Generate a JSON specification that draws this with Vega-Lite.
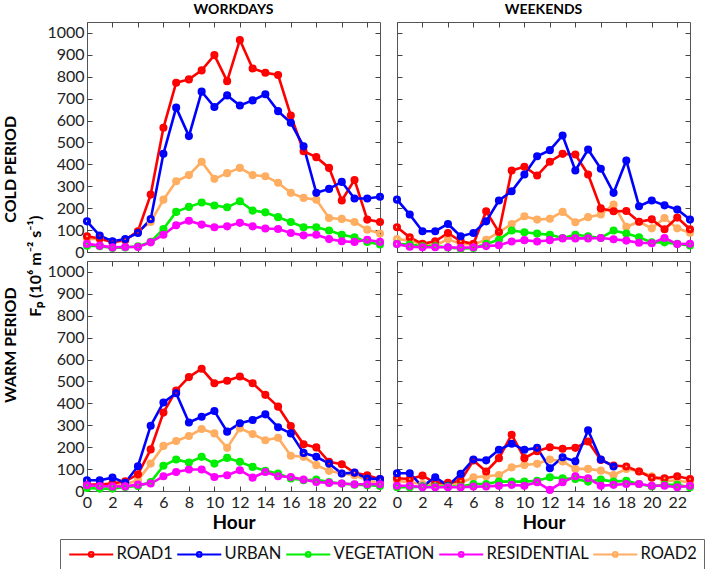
{
  "$schema": "https://vega.github.io/schema/vega-lite/v6.json",
  "padding": {"left": 3, "top": 2, "right": 0, "bottom": 0},
  "datasets": {
    "cw": [
      {"site":"ROAD2","hour":0,"value":59},{"site":"ROAD2","hour":1,"value":61},{"site":"ROAD2","hour":2,"value":46},{"site":"ROAD2","hour":3,"value":52},{"site":"ROAD2","hour":4,"value":95},{"site":"ROAD2","hour":5,"value":137},{"site":"ROAD2","hour":6,"value":239},{"site":"ROAD2","hour":7,"value":323},{"site":"ROAD2","hour":8,"value":351},{"site":"ROAD2","hour":9,"value":412},{"site":"ROAD2","hour":10,"value":334},{"site":"ROAD2","hour":11,"value":360},{"site":"ROAD2","hour":12,"value":384},{"site":"ROAD2","hour":13,"value":351},{"site":"ROAD2","hour":14,"value":346},{"site":"ROAD2","hour":15,"value":316},{"site":"ROAD2","hour":16,"value":270},{"site":"ROAD2","hour":17,"value":247},{"site":"ROAD2","hour":18,"value":239},{"site":"ROAD2","hour":19,"value":155},{"site":"ROAD2","hour":20,"value":151},{"site":"ROAD2","hour":21,"value":137},{"site":"ROAD2","hour":22,"value":102},{"site":"ROAD2","hour":23,"value":84},
      {"site":"ROAD1","hour":0,"value":72},{"site":"ROAD1","hour":1,"value":62},{"site":"ROAD1","hour":2,"value":45},{"site":"ROAD1","hour":3,"value":55},{"site":"ROAD1","hour":4,"value":95},{"site":"ROAD1","hour":5,"value":262},{"site":"ROAD1","hour":6,"value":567},{"site":"ROAD1","hour":7,"value":773},{"site":"ROAD1","hour":8,"value":788},{"site":"ROAD1","hour":9,"value":829},{"site":"ROAD1","hour":10,"value":899},{"site":"ROAD1","hour":11,"value":780},{"site":"ROAD1","hour":12,"value":968},{"site":"ROAD1","hour":13,"value":838},{"site":"ROAD1","hour":14,"value":818},{"site":"ROAD1","hour":15,"value":808},{"site":"ROAD1","hour":16,"value":623},{"site":"ROAD1","hour":17,"value":460},{"site":"ROAD1","hour":18,"value":433},{"site":"ROAD1","hour":19,"value":384},{"site":"ROAD1","hour":20,"value":235},{"site":"ROAD1","hour":21,"value":329},{"site":"ROAD1","hour":22,"value":148},{"site":"ROAD1","hour":23,"value":137},
      {"site":"URBAN","hour":0,"value":140},{"site":"URBAN","hour":1,"value":75},{"site":"URBAN","hour":2,"value":49},{"site":"URBAN","hour":3,"value":59},{"site":"URBAN","hour":4,"value":87},{"site":"URBAN","hour":5,"value":150},{"site":"URBAN","hour":6,"value":448},{"site":"URBAN","hour":7,"value":659},{"site":"URBAN","hour":8,"value":529},{"site":"URBAN","hour":9,"value":732},{"site":"URBAN","hour":10,"value":662},{"site":"URBAN","hour":11,"value":715},{"site":"URBAN","hour":12,"value":669},{"site":"URBAN","hour":13,"value":692},{"site":"URBAN","hour":14,"value":720},{"site":"URBAN","hour":15,"value":643},{"site":"URBAN","hour":16,"value":590},{"site":"URBAN","hour":17,"value":483},{"site":"URBAN","hour":18,"value":270},{"site":"URBAN","hour":19,"value":288},{"site":"URBAN","hour":20,"value":320},{"site":"URBAN","hour":21,"value":244},{"site":"URBAN","hour":22,"value":244},{"site":"URBAN","hour":23,"value":252},
      {"site":"VEGETATION","hour":0,"value":29},{"site":"VEGETATION","hour":1,"value":26},{"site":"VEGETATION","hour":2,"value":18},{"site":"VEGETATION","hour":3,"value":21},{"site":"VEGETATION","hour":4,"value":26},{"site":"VEGETATION","hour":5,"value":46},{"site":"VEGETATION","hour":6,"value":105},{"site":"VEGETATION","hour":7,"value":183},{"site":"VEGETATION","hour":8,"value":206},{"site":"VEGETATION","hour":9,"value":226},{"site":"VEGETATION","hour":10,"value":212},{"site":"VEGETATION","hour":11,"value":204},{"site":"VEGETATION","hour":12,"value":232},{"site":"VEGETATION","hour":13,"value":189},{"site":"VEGETATION","hour":14,"value":181},{"site":"VEGETATION","hour":15,"value":159},{"site":"VEGETATION","hour":16,"value":137},{"site":"VEGETATION","hour":17,"value":113},{"site":"VEGETATION","hour":18,"value":113},{"site":"VEGETATION","hour":19,"value":98},{"site":"VEGETATION","hour":20,"value":79},{"site":"VEGETATION","hour":21,"value":67},{"site":"VEGETATION","hour":22,"value":46},{"site":"VEGETATION","hour":23,"value":34},
      {"site":"RESIDENTIAL","hour":0,"value":37},{"site":"RESIDENTIAL","hour":1,"value":29},{"site":"RESIDENTIAL","hour":2,"value":21},{"site":"RESIDENTIAL","hour":3,"value":23},{"site":"RESIDENTIAL","hour":4,"value":23},{"site":"RESIDENTIAL","hour":5,"value":44},{"site":"RESIDENTIAL","hour":6,"value":79},{"site":"RESIDENTIAL","hour":7,"value":122},{"site":"RESIDENTIAL","hour":8,"value":143},{"site":"RESIDENTIAL","hour":9,"value":125},{"site":"RESIDENTIAL","hour":10,"value":113},{"site":"RESIDENTIAL","hour":11,"value":117},{"site":"RESIDENTIAL","hour":12,"value":133},{"site":"RESIDENTIAL","hour":13,"value":117},{"site":"RESIDENTIAL","hour":14,"value":107},{"site":"RESIDENTIAL","hour":15,"value":105},{"site":"RESIDENTIAL","hour":16,"value":87},{"site":"RESIDENTIAL","hour":17,"value":76},{"site":"RESIDENTIAL","hour":18,"value":79},{"site":"RESIDENTIAL","hour":19,"value":59},{"site":"RESIDENTIAL","hour":20,"value":49},{"site":"RESIDENTIAL","hour":21,"value":46},{"site":"RESIDENTIAL","hour":22,"value":56},{"site":"RESIDENTIAL","hour":23,"value":46}
    ],
    "ce": [
      {"site":"ROAD2","hour":0,"value":59},{"site":"ROAD2","hour":1,"value":52},{"site":"ROAD2","hour":2,"value":34},{"site":"ROAD2","hour":3,"value":29},{"site":"ROAD2","hour":4,"value":59},{"site":"ROAD2","hour":5,"value":37},{"site":"ROAD2","hour":6,"value":34},{"site":"ROAD2","hour":7,"value":56},{"site":"ROAD2","hour":8,"value":90},{"site":"ROAD2","hour":9,"value":128},{"site":"ROAD2","hour":10,"value":163},{"site":"ROAD2","hour":11,"value":148},{"site":"ROAD2","hour":12,"value":152},{"site":"ROAD2","hour":13,"value":183},{"site":"ROAD2","hour":14,"value":136},{"site":"ROAD2","hour":15,"value":159},{"site":"ROAD2","hour":16,"value":171},{"site":"ROAD2","hour":17,"value":217},{"site":"ROAD2","hour":18,"value":115},{"site":"ROAD2","hour":19,"value":138},{"site":"ROAD2","hour":20,"value":108},{"site":"ROAD2","hour":21,"value":155},{"site":"ROAD2","hour":22,"value":108},{"site":"ROAD2","hour":23,"value":88},
      {"site":"ROAD1","hour":0,"value":113},{"site":"ROAD1","hour":1,"value":67},{"site":"ROAD1","hour":2,"value":37},{"site":"ROAD1","hour":3,"value":49},{"site":"ROAD1","hour":4,"value":87},{"site":"ROAD1","hour":5,"value":49},{"site":"ROAD1","hour":6,"value":37},{"site":"ROAD1","hour":7,"value":186},{"site":"ROAD1","hour":8,"value":91},{"site":"ROAD1","hour":9,"value":372},{"site":"ROAD1","hour":10,"value":389},{"site":"ROAD1","hour":11,"value":349},{"site":"ROAD1","hour":12,"value":412},{"site":"ROAD1","hour":13,"value":448},{"site":"ROAD1","hour":14,"value":445},{"site":"ROAD1","hour":15,"value":354},{"site":"ROAD1","hour":16,"value":199},{"site":"ROAD1","hour":17,"value":186},{"site":"ROAD1","hour":18,"value":187},{"site":"ROAD1","hour":19,"value":138},{"site":"ROAD1","hour":20,"value":149},{"site":"ROAD1","hour":21,"value":104},{"site":"ROAD1","hour":22,"value":157},{"site":"ROAD1","hour":23,"value":104},
      {"site":"URBAN","hour":0,"value":239},{"site":"URBAN","hour":1,"value":171},{"site":"URBAN","hour":2,"value":95},{"site":"URBAN","hour":3,"value":95},{"site":"URBAN","hour":4,"value":128},{"site":"URBAN","hour":5,"value":72},{"site":"URBAN","hour":6,"value":87},{"site":"URBAN","hour":7,"value":140},{"site":"URBAN","hour":8,"value":235},{"site":"URBAN","hour":9,"value":277},{"site":"URBAN","hour":10,"value":354},{"site":"URBAN","hour":11,"value":437},{"site":"URBAN","hour":12,"value":465},{"site":"URBAN","hour":13,"value":532},{"site":"URBAN","hour":14,"value":372},{"site":"URBAN","hour":15,"value":468},{"site":"URBAN","hour":16,"value":380},{"site":"URBAN","hour":17,"value":270},{"site":"URBAN","hour":18,"value":418},{"site":"URBAN","hour":19,"value":209},{"site":"URBAN","hour":20,"value":235},{"site":"URBAN","hour":21,"value":213},{"site":"URBAN","hour":22,"value":194},{"site":"URBAN","hour":23,"value":148},
      {"site":"VEGETATION","hour":0,"value":37},{"site":"VEGETATION","hour":1,"value":34},{"site":"VEGETATION","hour":2,"value":26},{"site":"VEGETATION","hour":3,"value":26},{"site":"VEGETATION","hour":4,"value":21},{"site":"VEGETATION","hour":5,"value":15},{"site":"VEGETATION","hour":6,"value":18},{"site":"VEGETATION","hour":7,"value":37},{"site":"VEGETATION","hour":8,"value":56},{"site":"VEGETATION","hour":9,"value":98},{"site":"VEGETATION","hour":10,"value":90},{"site":"VEGETATION","hour":11,"value":84},{"site":"VEGETATION","hour":12,"value":79},{"site":"VEGETATION","hour":13,"value":64},{"site":"VEGETATION","hour":14,"value":79},{"site":"VEGETATION","hour":15,"value":72},{"site":"VEGETATION","hour":16,"value":64},{"site":"VEGETATION","hour":17,"value":98},{"site":"VEGETATION","hour":18,"value":84},{"site":"VEGETATION","hour":19,"value":67},{"site":"VEGETATION","hour":20,"value":44},{"site":"VEGETATION","hour":21,"value":44},{"site":"VEGETATION","hour":22,"value":37},{"site":"VEGETATION","hour":23,"value":30},
      {"site":"RESIDENTIAL","hour":0,"value":36},{"site":"RESIDENTIAL","hour":1,"value":24},{"site":"RESIDENTIAL","hour":2,"value":22},{"site":"RESIDENTIAL","hour":3,"value":22},{"site":"RESIDENTIAL","hour":4,"value":22},{"site":"RESIDENTIAL","hour":5,"value":19},{"site":"RESIDENTIAL","hour":6,"value":22},{"site":"RESIDENTIAL","hour":7,"value":27},{"site":"RESIDENTIAL","hour":8,"value":31},{"site":"RESIDENTIAL","hour":9,"value":48},{"site":"RESIDENTIAL","hour":10,"value":54},{"site":"RESIDENTIAL","hour":11,"value":48},{"site":"RESIDENTIAL","hour":12,"value":54},{"site":"RESIDENTIAL","hour":13,"value":62},{"site":"RESIDENTIAL","hour":14,"value":62},{"site":"RESIDENTIAL","hour":15,"value":62},{"site":"RESIDENTIAL","hour":16,"value":64},{"site":"RESIDENTIAL","hour":17,"value":58},{"site":"RESIDENTIAL","hour":18,"value":52},{"site":"RESIDENTIAL","hour":19,"value":42},{"site":"RESIDENTIAL","hour":20,"value":40},{"site":"RESIDENTIAL","hour":21,"value":64},{"site":"RESIDENTIAL","hour":22,"value":36},{"site":"RESIDENTIAL","hour":23,"value":38}
    ],
    "ww": [
      {"site":"ROAD2","hour":0,"value":23},{"site":"ROAD2","hour":1,"value":23},{"site":"ROAD2","hour":2,"value":23},{"site":"ROAD2","hour":3,"value":31},{"site":"ROAD2","hour":4,"value":49},{"site":"ROAD2","hour":5,"value":125},{"site":"ROAD2","hour":6,"value":206},{"site":"ROAD2","hour":7,"value":228},{"site":"ROAD2","hour":8,"value":251},{"site":"ROAD2","hour":9,"value":283},{"site":"ROAD2","hour":10,"value":263},{"site":"ROAD2","hour":11,"value":197},{"site":"ROAD2","hour":12,"value":286},{"site":"ROAD2","hour":13,"value":260},{"site":"ROAD2","hour":14,"value":232},{"site":"ROAD2","hour":15,"value":243},{"site":"ROAD2","hour":16,"value":161},{"site":"ROAD2","hour":17,"value":156},{"site":"ROAD2","hour":18,"value":118},{"site":"ROAD2","hour":19,"value":92},{"site":"ROAD2","hour":20,"value":80},{"site":"ROAD2","hour":21,"value":72},{"site":"ROAD2","hour":22,"value":49},{"site":"ROAD2","hour":23,"value":34},
      {"site":"ROAD1","hour":0,"value":29},{"site":"ROAD1","hour":1,"value":29},{"site":"ROAD1","hour":2,"value":34},{"site":"ROAD1","hour":3,"value":44},{"site":"ROAD1","hour":4,"value":76},{"site":"ROAD1","hour":5,"value":190},{"site":"ROAD1","hour":6,"value":358},{"site":"ROAD1","hour":7,"value":459},{"site":"ROAD1","hour":8,"value":520},{"site":"ROAD1","hour":9,"value":558},{"site":"ROAD1","hour":10,"value":492},{"site":"ROAD1","hour":11,"value":503},{"site":"ROAD1","hour":12,"value":523},{"site":"ROAD1","hour":13,"value":492},{"site":"ROAD1","hour":14,"value":439},{"site":"ROAD1","hour":15,"value":385},{"site":"ROAD1","hour":16,"value":297},{"site":"ROAD1","hour":17,"value":213},{"site":"ROAD1","hour":18,"value":199},{"site":"ROAD1","hour":19,"value":133},{"site":"ROAD1","hour":20,"value":122},{"site":"ROAD1","hour":21,"value":83},{"site":"ROAD1","hour":22,"value":72},{"site":"ROAD1","hour":23,"value":54},
      {"site":"URBAN","hour":0,"value":49},{"site":"URBAN","hour":1,"value":49},{"site":"URBAN","hour":2,"value":61},{"site":"URBAN","hour":3,"value":38},{"site":"URBAN","hour":4,"value":113},{"site":"URBAN","hour":5,"value":298},{"site":"URBAN","hour":6,"value":404},{"site":"URBAN","hour":7,"value":446},{"site":"URBAN","hour":8,"value":313},{"site":"URBAN","hour":9,"value":339},{"site":"URBAN","hour":10,"value":365},{"site":"URBAN","hour":11,"value":271},{"site":"URBAN","hour":12,"value":309},{"site":"URBAN","hour":13,"value":324},{"site":"URBAN","hour":14,"value":350},{"site":"URBAN","hour":15,"value":291},{"site":"URBAN","hour":16,"value":263},{"site":"URBAN","hour":17,"value":174},{"site":"URBAN","hour":18,"value":156},{"site":"URBAN","hour":19,"value":125},{"site":"URBAN","hour":20,"value":80},{"site":"URBAN","hour":21,"value":84},{"site":"URBAN","hour":22,"value":57},{"site":"URBAN","hour":23,"value":54},
      {"site":"VEGETATION","hour":0,"value":14},{"site":"VEGETATION","hour":1,"value":11},{"site":"VEGETATION","hour":2,"value":11},{"site":"VEGETATION","hour":3,"value":18},{"site":"VEGETATION","hour":4,"value":23},{"site":"VEGETATION","hour":5,"value":41},{"site":"VEGETATION","hour":6,"value":115},{"site":"VEGETATION","hour":7,"value":144},{"site":"VEGETATION","hour":8,"value":130},{"site":"VEGETATION","hour":9,"value":156},{"site":"VEGETATION","hour":10,"value":125},{"site":"VEGETATION","hour":11,"value":151},{"site":"VEGETATION","hour":12,"value":133},{"site":"VEGETATION","hour":13,"value":110},{"site":"VEGETATION","hour":14,"value":92},{"site":"VEGETATION","hour":15,"value":80},{"site":"VEGETATION","hour":16,"value":57},{"site":"VEGETATION","hour":17,"value":49},{"site":"VEGETATION","hour":18,"value":52},{"site":"VEGETATION","hour":19,"value":41},{"site":"VEGETATION","hour":20,"value":34},{"site":"VEGETATION","hour":21,"value":29},{"site":"VEGETATION","hour":22,"value":26},{"site":"VEGETATION","hour":23,"value":23},
      {"site":"RESIDENTIAL","hour":0,"value":26},{"site":"RESIDENTIAL","hour":1,"value":23},{"site":"RESIDENTIAL","hour":2,"value":21},{"site":"RESIDENTIAL","hour":3,"value":21},{"site":"RESIDENTIAL","hour":4,"value":29},{"site":"RESIDENTIAL","hour":5,"value":34},{"site":"RESIDENTIAL","hour":6,"value":67},{"site":"RESIDENTIAL","hour":7,"value":87},{"site":"RESIDENTIAL","hour":8,"value":98},{"site":"RESIDENTIAL","hour":9,"value":98},{"site":"RESIDENTIAL","hour":10,"value":64},{"site":"RESIDENTIAL","hour":11,"value":72},{"site":"RESIDENTIAL","hour":12,"value":95},{"site":"RESIDENTIAL","hour":13,"value":61},{"site":"RESIDENTIAL","hour":14,"value":87},{"site":"RESIDENTIAL","hour":15,"value":67},{"site":"RESIDENTIAL","hour":16,"value":64},{"site":"RESIDENTIAL","hour":17,"value":52},{"site":"RESIDENTIAL","hour":18,"value":41},{"site":"RESIDENTIAL","hour":19,"value":37},{"site":"RESIDENTIAL","hour":20,"value":34},{"site":"RESIDENTIAL","hour":21,"value":31},{"site":"RESIDENTIAL","hour":22,"value":31},{"site":"RESIDENTIAL","hour":23,"value":31}
    ],
    "we": [
      {"site":"ROAD2","hour":0,"value":47},{"site":"ROAD2","hour":1,"value":40},{"site":"ROAD2","hour":2,"value":32},{"site":"ROAD2","hour":3,"value":32},{"site":"ROAD2","hour":4,"value":28},{"site":"ROAD2","hour":5,"value":37},{"site":"ROAD2","hour":6,"value":63},{"site":"ROAD2","hour":7,"value":67},{"site":"ROAD2","hour":8,"value":73},{"site":"ROAD2","hour":9,"value":108},{"site":"ROAD2","hour":10,"value":119},{"site":"ROAD2","hour":11,"value":124},{"site":"ROAD2","hour":12,"value":144},{"site":"ROAD2","hour":13,"value":135},{"site":"ROAD2","hour":14,"value":101},{"site":"ROAD2","hour":15,"value":101},{"site":"ROAD2","hour":16,"value":93},{"site":"ROAD2","hour":17,"value":73},{"site":"ROAD2","hour":18,"value":101},{"site":"ROAD2","hour":19,"value":90},{"site":"ROAD2","hour":20,"value":67},{"site":"ROAD2","hour":21,"value":47},{"site":"ROAD2","hour":22,"value":47},{"site":"ROAD2","hour":23,"value":40},
      {"site":"ROAD1","hour":0,"value":58},{"site":"ROAD1","hour":1,"value":55},{"site":"ROAD1","hour":2,"value":70},{"site":"ROAD1","hour":3,"value":37},{"site":"ROAD1","hour":4,"value":37},{"site":"ROAD1","hour":5,"value":47},{"site":"ROAD1","hour":6,"value":139},{"site":"ROAD1","hour":7,"value":89},{"site":"ROAD1","hour":8,"value":150},{"site":"ROAD1","hour":9,"value":257},{"site":"ROAD1","hour":10,"value":150},{"site":"ROAD1","hour":11,"value":182},{"site":"ROAD1","hour":12,"value":200},{"site":"ROAD1","hour":13,"value":193},{"site":"ROAD1","hour":14,"value":197},{"site":"ROAD1","hour":15,"value":226},{"site":"ROAD1","hour":16,"value":142},{"site":"ROAD1","hour":17,"value":116},{"site":"ROAD1","hour":18,"value":112},{"site":"ROAD1","hour":19,"value":89},{"site":"ROAD1","hour":20,"value":61},{"site":"ROAD1","hour":21,"value":58},{"site":"ROAD1","hour":22,"value":67},{"site":"ROAD1","hour":23,"value":55},
      {"site":"URBAN","hour":0,"value":81},{"site":"URBAN","hour":1,"value":81},{"site":"URBAN","hour":2,"value":20},{"site":"URBAN","hour":3,"value":63},{"site":"URBAN","hour":4,"value":24},{"site":"URBAN","hour":5,"value":78},{"site":"URBAN","hour":6,"value":144},{"site":"URBAN","hour":7,"value":140},{"site":"URBAN","hour":8,"value":188},{"site":"URBAN","hour":9,"value":216},{"site":"URBAN","hour":10,"value":188},{"site":"URBAN","hour":11,"value":197},{"site":"URBAN","hour":12,"value":104},{"site":"URBAN","hour":13,"value":154},{"site":"URBAN","hour":14,"value":136},{"site":"URBAN","hour":15,"value":277},{"site":"URBAN","hour":16,"value":144},{"site":"URBAN","hour":17,"value":112},
      {"site":"VEGETATION","hour":0,"value":17},{"site":"VEGETATION","hour":1,"value":17},{"site":"VEGETATION","hour":2,"value":20},{"site":"VEGETATION","hour":3,"value":20},{"site":"VEGETATION","hour":4,"value":20},{"site":"VEGETATION","hour":5,"value":20},{"site":"VEGETATION","hour":6,"value":32},{"site":"VEGETATION","hour":7,"value":32},{"site":"VEGETATION","hour":8,"value":43},{"site":"VEGETATION","hour":9,"value":43},{"site":"VEGETATION","hour":10,"value":43},{"site":"VEGETATION","hour":11,"value":47},{"site":"VEGETATION","hour":12,"value":63},{"site":"VEGETATION","hour":13,"value":58},{"site":"VEGETATION","hour":14,"value":55},{"site":"VEGETATION","hour":15,"value":43},{"site":"VEGETATION","hour":16,"value":52},{"site":"VEGETATION","hour":17,"value":43},{"site":"VEGETATION","hour":18,"value":47},{"site":"VEGETATION","hour":19,"value":32},{"site":"VEGETATION","hour":20,"value":21},{"site":"VEGETATION","hour":21,"value":28},{"site":"VEGETATION","hour":22,"value":28},{"site":"VEGETATION","hour":23,"value":17},
      {"site":"RESIDENTIAL","hour":0,"value":24},{"site":"RESIDENTIAL","hour":1,"value":24},{"site":"RESIDENTIAL","hour":2,"value":17},{"site":"RESIDENTIAL","hour":3,"value":17},{"site":"RESIDENTIAL","hour":4,"value":17},{"site":"RESIDENTIAL","hour":5,"value":17},{"site":"RESIDENTIAL","hour":6,"value":20},{"site":"RESIDENTIAL","hour":7,"value":21},{"site":"RESIDENTIAL","hour":8,"value":24},{"site":"RESIDENTIAL","hour":9,"value":28},{"site":"RESIDENTIAL","hour":10,"value":24},{"site":"RESIDENTIAL","hour":11,"value":40},{"site":"RESIDENTIAL","hour":12,"value":5},{"site":"RESIDENTIAL","hour":13,"value":40},{"site":"RESIDENTIAL","hour":14,"value":67},{"site":"RESIDENTIAL","hour":15,"value":58},{"site":"RESIDENTIAL","hour":16,"value":24},{"site":"RESIDENTIAL","hour":17,"value":28},{"site":"RESIDENTIAL","hour":18,"value":32},{"site":"RESIDENTIAL","hour":19,"value":32},{"site":"RESIDENTIAL","hour":20,"value":24},{"site":"RESIDENTIAL","hour":21,"value":24},{"site":"RESIDENTIAL","hour":22,"value":17},{"site":"RESIDENTIAL","hour":23,"value":24}
    ]
  },
  "title": {"text": "F\u209a (10\u2076 m\u207b\u00b2 s\u207b\u00b9)", "orient": "left", "anchor": "middle", "offset": -41, "fontSize": 16, "fontWeight": "bold", "dx": 20},
  "spacing": -2,
  "vconcat": [
    {
      "title": {"text": "COLD PERIOD", "orient": "left", "anchor": "middle", "offset": 27, "fontSize": 16, "dx": -38},
      "spacing": -3,
      "hconcat": [
        {
          "width": 293, "height": 230,
          "title": "WORKDAYS",
          "data": {"name": "cw"},
          "encoding": {"color": {"field": "site", "type": "nominal", "scale": {"domain": ["ROAD1","URBAN","VEGETATION","RESIDENTIAL","ROAD2"], "range": ["#ff0000","#0000ff","#00ee00","#ff00ff","#ffad60"]}, "legend": {"orient": "none", "legendX": -27, "legendY": 517, "direction": "horizontal", "title": null}}},
          "layer": [
            {"mark": {"type": "line", "strokeWidth": 2.6},
             "encoding": {
               "x": {"field": "hour", "type": "quantitative", "scale": {"domain": [0,23], "nice": false}, "axis": {"values": [0,2,4,6,8,10,12,14,16,18,20,22], "labels": false, "title": null}},
               "y": {"field": "value", "type": "quantitative", "scale": {"domain": [0,1050], "nice": false}, "axis": {"values": [0,100,200,300,400,500,600,700,800,900,1000], "format": "d", "title": null}}}},
            {"mark": {"type": "point", "filled": false, "size": 26, "strokeWidth": 3, "opacity": 1},
             "encoding": {
               "x": {"field": "hour", "type": "quantitative", "scale": {"domain": [0,23], "nice": false}, "axis": {"orient": "top", "values": [0,2,4,6,8,10,12,14,16,18,20,22], "labels": false, "title": null}},
               "y": {"field": "value", "type": "quantitative", "scale": {"domain": [0,1050], "nice": false}, "axis": {"orient": "right", "values": [0,100,200,300,400,500,600,700,800,900,1000], "labels": false, "title": null}}}}
          ],
          "resolve": {"axis": {"x": "independent", "y": "independent"}}
        },
        {
          "width": 293, "height": 230,
          "title": "WEEKENDS",
          "data": {"name": "ce"},
          "encoding": {"color": {"field": "site", "type": "nominal", "scale": {"domain": ["ROAD1","URBAN","VEGETATION","RESIDENTIAL","ROAD2"], "range": ["#ff0000","#0000ff","#00ee00","#ff00ff","#ffad60"]}, "legend": {"orient": "none", "legendX": -27, "legendY": 517, "direction": "horizontal", "title": null}}},
          "layer": [
            {"mark": {"type": "line", "strokeWidth": 2.6},
             "encoding": {
               "x": {"field": "hour", "type": "quantitative", "scale": {"domain": [0,23], "nice": false}, "axis": {"values": [0,2,4,6,8,10,12,14,16,18,20,22], "labels": false, "title": null}},
               "y": {"field": "value", "type": "quantitative", "scale": {"domain": [0,1050], "nice": false}, "axis": {"values": [0,100,200,300,400,500,600,700,800,900,1000], "labels": false, "title": null}}}},
            {"mark": {"type": "point", "filled": false, "size": 26, "strokeWidth": 3, "opacity": 1},
             "encoding": {
               "x": {"field": "hour", "type": "quantitative", "scale": {"domain": [0,23], "nice": false}, "axis": {"orient": "top", "values": [0,2,4,6,8,10,12,14,16,18,20,22], "labels": false, "title": null}},
               "y": {"field": "value", "type": "quantitative", "scale": {"domain": [0,1050], "nice": false}, "axis": {"orient": "right", "values": [0,100,200,300,400,500,600,700,800,900,1000], "labels": false, "title": null}}}}
          ],
          "resolve": {"axis": {"x": "independent", "y": "independent"}}
        }
      ]
    },
    {
      "title": {"text": "WARM PERIOD", "orient": "left", "anchor": "middle", "offset": 27, "fontSize": 16, "dx": 51},
      "spacing": -3,
      "hconcat": [
        {
          "width": 293, "height": 230,
          "data": {"name": "ww"},
          "encoding": {"color": {"field": "site", "type": "nominal", "scale": {"domain": ["ROAD1","URBAN","VEGETATION","RESIDENTIAL","ROAD2"], "range": ["#ff0000","#0000ff","#00ee00","#ff00ff","#ffad60"]}, "legend": {"orient": "none", "legendX": -27, "legendY": 517, "direction": "horizontal", "title": null}}},
          "layer": [
            {"mark": {"type": "line", "strokeWidth": 2.6},
             "encoding": {
               "x": {"field": "hour", "type": "quantitative", "scale": {"domain": [0,23], "nice": false}, "axis": {"values": [0,2,4,6,8,10,12,14,16,18,20,22], "title": "Hour"}},
               "y": {"field": "value", "type": "quantitative", "scale": {"domain": [0,1050], "nice": false}, "axis": {"values": [0,100,200,300,400,500,600,700,800,900,1000], "format": "d", "title": null}}}},
            {"mark": {"type": "point", "filled": false, "size": 26, "strokeWidth": 3, "opacity": 1},
             "encoding": {
               "x": {"field": "hour", "type": "quantitative", "scale": {"domain": [0,23], "nice": false}, "axis": {"orient": "top", "values": [0,2,4,6,8,10,12,14,16,18,20,22], "labels": false, "title": null}},
               "y": {"field": "value", "type": "quantitative", "scale": {"domain": [0,1050], "nice": false}, "axis": {"orient": "right", "values": [0,100,200,300,400,500,600,700,800,900,1000], "labels": false, "title": null}}}}
          ],
          "resolve": {"axis": {"x": "independent", "y": "independent"}}
        },
        {
          "width": 293, "height": 230,
          "data": {"name": "we"},
          "encoding": {"color": {"field": "site", "type": "nominal", "scale": {"domain": ["ROAD1","URBAN","VEGETATION","RESIDENTIAL","ROAD2"], "range": ["#ff0000","#0000ff","#00ee00","#ff00ff","#ffad60"]}, "legend": {"orient": "none", "legendX": -27, "legendY": 517, "direction": "horizontal", "title": null}}},
          "layer": [
            {"mark": {"type": "line", "strokeWidth": 2.6},
             "encoding": {
               "x": {"field": "hour", "type": "quantitative", "scale": {"domain": [0,23], "nice": false}, "axis": {"values": [0,2,4,6,8,10,12,14,16,18,20,22], "title": "Hour"}},
               "y": {"field": "value", "type": "quantitative", "scale": {"domain": [0,1050], "nice": false}, "axis": {"values": [0,100,200,300,400,500,600,700,800,900,1000], "labels": false, "title": null}}}},
            {"mark": {"type": "point", "filled": false, "size": 26, "strokeWidth": 3, "opacity": 1},
             "encoding": {
               "x": {"field": "hour", "type": "quantitative", "scale": {"domain": [0,23], "nice": false}, "axis": {"orient": "top", "values": [0,2,4,6,8,10,12,14,16,18,20,22], "labels": false, "title": null}},
               "y": {"field": "value", "type": "quantitative", "scale": {"domain": [0,1050], "nice": false}, "axis": {"orient": "right", "values": [0,100,200,300,400,500,600,700,800,900,1000], "labels": false, "title": null}}}}
          ],
          "resolve": {"axis": {"x": "independent", "y": "independent"}}
        }
      ]
    }
  ],
  "config": {
    "font": "Lato",
    "background": "white",
    "view": {"stroke": "#555", "strokeWidth": 1},
    "title": {"fontSize": 14, "fontWeight": "bold", "color": "#000", "offset": 5},
    "axis": {"grid": false, "domain": false, "tickSize": -5, "tickColor": "#444", "tickWidth": 1, "labelFontSize": 16, "labelColor": "#222", "labelPadding": 8, "labelFlush": false, "titleFontSize": 19, "titleFontWeight": "bold", "titleColor": "#000", "titlePadding": 3},
    "legend": {"symbolType": "M-4.4,0H4.4M-0.48,0a0.48,0.48 0 1,0 0.96,0a0.48,0.48 0 1,0 -0.96,0", "symbolSize": 100, "symbolStrokeWidth": 2, "symbolOffset": 16, "labelFontSize": 16.5, "labelColor": "#111", "labelOffset": 17, "columnPadding": 0, "strokeColor": "#666", "padding": 7}
  }
}
